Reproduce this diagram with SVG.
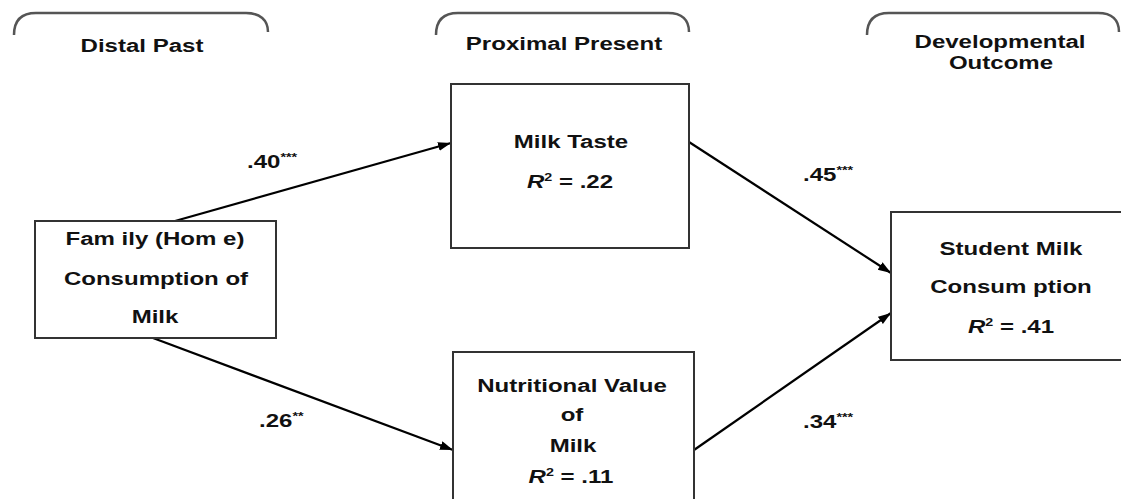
<svg xmlns="http://www.w3.org/2000/svg" width="1121" height="499" viewBox="0 0 1121 499">
<defs>
<style>
.t{font-family:"Liberation Sans",Arial,sans-serif;font-size:18.5px;font-weight:bold;fill:#111;text-anchor:middle}
.l{font-family:"Liberation Sans",Arial,sans-serif;font-size:18.5px;font-weight:bold;fill:#111}
.sup{font-size:11px}
.box{fill:#fff;stroke:#333;stroke-width:2}
.br{fill:none;stroke:#555;stroke-width:2.5}
.c{stroke:#000;stroke-width:2.2;fill:none;marker-end:url(#ah)}
</style>
<marker id="ah" markerUnits="userSpaceOnUse" markerWidth="14" markerHeight="10" refX="13" refY="4.5" orient="auto">
<path d="M0,0 L13,4.5 L0,9 z" fill="#000"/>
</marker>
</defs>
<rect width="1121" height="499" fill="#fff"/>
<g id="headers">
<path class="br" d="M14,35 C14,20 22,13 36,13 L246,13 C260,13 268,20 268,32"/>
<path class="br" d="M436,35 C436,20 444,13 458,13 L668,13 C682,13 689,20 689,32"/>
<path class="br" d="M867,35 C867,20 875,13 889,13 L1098,13 C1112,13 1119,20 1119,32"/>
<text class="t" transform="translate(142,52) scale(1.3,1)">Distal Past</text>
<text class="t" transform="translate(564,50) scale(1.3,1)">Proximal Present</text>
<text class="t" transform="translate(1000,48) scale(1.3,1)">Developmental</text>
<text class="t" transform="translate(1001,69) scale(1.3,1)">Outcome</text>
</g>
<g id="connectors">
<line class="c" x1="175" y1="221" x2="451" y2="143"/>
<line class="c" x1="153" y1="338" x2="453" y2="450"/>
<line class="c" x1="689" y1="142" x2="891" y2="273"/>
<line class="c" x1="694" y1="450" x2="891" y2="313"/>
<text class="l" transform="translate(247,168) scale(1.3,1)">.40<tspan class="sup" dy="-7">***</tspan></text>
<text class="l" transform="translate(259,427) scale(1.3,1)">.26<tspan class="sup" dy="-7">**</tspan></text>
<text class="l" transform="translate(803,181) scale(1.3,1)">.45<tspan class="sup" dy="-7">***</tspan></text>
<text class="l" transform="translate(803,428) scale(1.3,1)">.34<tspan class="sup" dy="-7">***</tspan></text>
</g>
<g id="family">
<rect class="box" x="35" y="221" width="241" height="117"/>
<text class="t" transform="translate(155,245) scale(1.3,1)">Fam ily (Hom e)</text>
<text class="t" transform="translate(156,285) scale(1.3,1)">Consumption of</text>
<text class="t" transform="translate(155,323) scale(1.3,1)">Milk</text>
</g>
<g id="milk-taste">
<rect class="box" x="451" y="84" width="238" height="164"/>
<text class="t" transform="translate(571,148) scale(1.3,1)">Milk Taste</text>
<text class="t" transform="translate(570,188) scale(1.3,1)" font-weight="normal"><tspan font-style="italic">R</tspan><tspan class="sup" dy="-7">2</tspan><tspan dy="7"> = .22</tspan></text>
</g>
<g id="nutritional">
<rect class="box" x="453" y="352" width="241" height="160"/>
<text class="t" transform="translate(572,392) scale(1.3,1)">Nutritional Value</text>
<text class="t" transform="translate(572,421) scale(1.3,1)">of</text>
<text class="t" transform="translate(573,452) scale(1.3,1)">Milk</text>
<text class="t" transform="translate(571,483) scale(1.3,1)"><tspan font-style="italic">R</tspan><tspan class="sup" dy="-7">2</tspan><tspan dy="7"> = .11</tspan></text>
</g>
<g id="student">
<rect class="box" x="891" y="212" width="240" height="148"/>
<text class="t" transform="translate(1011,255) scale(1.3,1)">Student Milk</text>
<text class="t" transform="translate(1011,293) scale(1.3,1)">Consum ption</text>
<text class="t" transform="translate(1011,333) scale(1.3,1)"><tspan font-style="italic">R</tspan><tspan class="sup" dy="-7">2</tspan><tspan dy="7"> = .41</tspan></text>
</g>
</svg>
